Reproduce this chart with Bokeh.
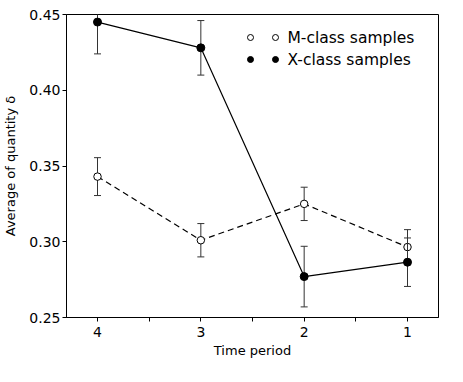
from bokeh.plotting import figure
from bokeh.models import Range1d, FixedTicker, PrintfTickFormatter, ColumnDataSource
from bokeh.core.properties import value
from bokeh.embed import file_html
from bokeh.resources import INLINE

periods = [4, 3, 2, 1]
m_mean = [0.343, 0.301, 0.325, 0.2965]
m_err = [0.0125, 0.0110, 0.0110, 0.0115]
x_mean = [0.445, 0.428, 0.277, 0.2865]
x_err = [0.021, 0.018, 0.020, 0.016]
legend_labels = ["M-class samples", "X-class samples"]
y_ticks = [0.25, 0.30, 0.35, 0.40, 0.45]

FONT = "DejaVu Sans"
W, H = 447, 366
frame_l, frame_r, frame_t, frame_b = 66, 438, 14, 317

p = figure(width=W, height=H, output_backend="svg", toolbar_location=None,
           x_range=Range1d(4.3, 0.7), y_range=Range1d(0.25, 0.45),
           min_border_left=frame_l, min_border_right=W - frame_r,
           min_border_top=frame_t, min_border_bottom=H - frame_b)
p.grid.visible = False
p.outline_line_color = "black"
p.outline_line_width = 1
p.background_fill_color = "white"
p.border_fill_color = "white"

for ax in (p.xaxis[0], p.yaxis[0]):
    ax.axis_line_color = "black"
    ax.major_tick_in = 0
    ax.major_tick_out = 4
    ax.minor_tick_in = 0
    ax.minor_tick_out = 4
    ax.major_label_text_font = FONT
    ax.major_label_text_font_size = "14px"
    ax.major_label_text_color = "black"
    ax.axis_label_text_font = FONT
    ax.axis_label_text_font_size = "13px"
    ax.axis_label_text_font_style = "normal"
    ax.axis_label_text_color = "black"

p.xaxis.ticker = FixedTicker(ticks=periods, minor_ticks=[3.5, 2.5, 1.5])
p.xaxis.axis_label = "Time period"
p.xaxis.major_label_standoff = 5
p.xaxis.axis_label_standoff = 3
p.yaxis.ticker = FixedTicker(ticks=y_ticks)
p.yaxis.formatter = PrintfTickFormatter(format="%.2f")
p.yaxis.axis_label = "Average of quantity δ"
p.yaxis.major_label_standoff = 2
p.yaxis.axis_label_standoff = 8

ERR_COLOR = "#333333"

def series(mean, err, filled, dash):
    lo = [m - e for m, e in zip(mean, err)]
    hi = [m + e for m, e in zip(mean, err)]
    src = ColumnDataSource(dict(x=periods, y=mean, lo=lo, hi=hi))
    p.segment(x0="x", y0="lo", x1="x", y1="hi", source=src, line_color=ERR_COLOR, line_width=1)
    p.scatter(x="x", y="lo", source=src, marker="dash", size=7, line_color=ERR_COLOR, line_width=1)
    p.scatter(x="x", y="hi", source=src, marker="dash", size=7, line_color=ERR_COLOR, line_width=1)
    p.line(x="x", y="y", source=src, line_color="black", line_width=1.2, line_dash=dash)
    p.scatter(x="x", y="y", source=src, marker="circle", size=8 if filled else 7.5,
              fill_color="black" if filled else "white", line_color="black", line_width=1)

series(m_mean, m_err, False, "6 4")
series(x_mean, x_err, True, "solid")

# manual legend (two markers per entry, matplotlib style), placed in screen pixels
def px_to_x(px):
    return 4.3 + (px - frame_l) * (0.7 - 4.3) / (frame_r - frame_l)
def px_to_y(py):
    return 0.45 - (py - frame_t) * (0.45 - 0.25) / (frame_b - frame_t)

row_py = [37, 59]
mk_px = [250, 275]
txt_px = 287
for i, lab in enumerate(legend_labels):
    filled = i == 1
    p.scatter(x=[px_to_x(v) for v in mk_px], y=[px_to_y(row_py[i])] * 2, marker="circle", size=6,
              fill_color="black" if filled else "white", line_color="black", line_width=1)
    p.text(x=[px_to_x(txt_px)], y=[px_to_y(row_py[i])], text=[lab], text_font=value(FONT),
           text_font_size="15.5px", text_baseline="middle", text_align="left", text_color="black")

open("out.html", "w").write(file_html(p, INLINE))
